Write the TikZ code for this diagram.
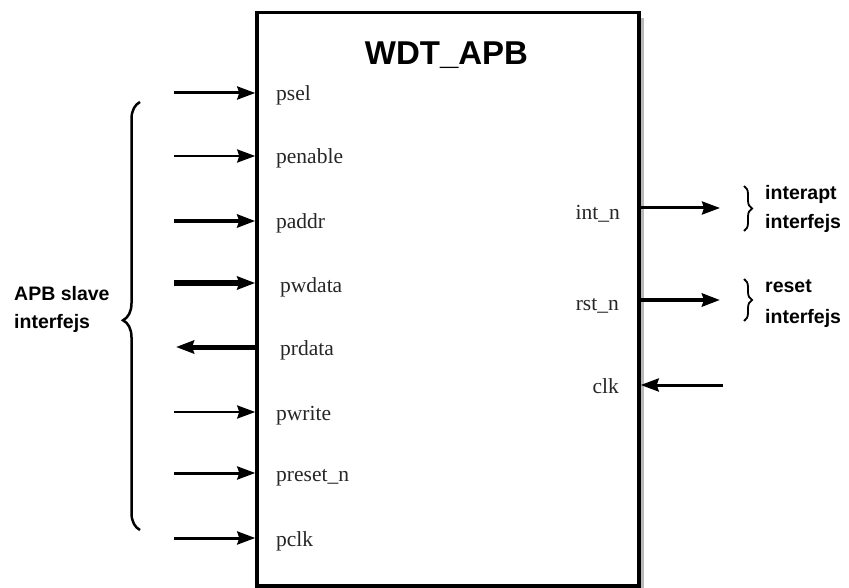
\documentclass[tikz,border=0pt]{standalone}
\usepackage{fontspec}
\setmainfont{Liberation Serif}
\newfontfamily\headsans{Liberation Sans}
\usetikzlibrary{arrows.meta,decorations.pathreplacing}

\tikzset{
  sig/.style={-{Stealth[length=18pt 0 0,width=13pt 0 0,inset=2pt 0 0]}, line width=3pt},
  pinlbl/.style={font=\fontsize{21.5}{24}\selectfont, text=black!85, inner sep=0pt},
  grouplbl/.style={font=\headsans\bfseries\fontsize{19.5}{22}\selectfont, inner sep=0pt, anchor=base west},
  bigbrace/.style={decorate, decoration={brace, amplitude=17pt, aspect=0.49}, line width=2.5pt},
  smallbrace/.style={decorate, decoration={brace, amplitude=8pt}, line width=1.8pt},
}

\begin{document}
\begin{tikzpicture}[x=1pt,y=1pt]
\useasboundingbox (0,0) rectangle (849,-588);

% the block
\draw[gray!55, line width=3pt] (642.5,-18) -- (642.5,-588);
\node[draw, line width=3.5pt, minimum width=382pt, minimum height=573.5pt,
      inner sep=0pt] (wdt) at (448,-299.25) {};
\node[font=\headsans\bfseries\fontsize{33}{36}\selectfont, anchor=base, inner sep=0pt]
  (title) at (446.5,-65) {WDT\_APB};

% APB slave port: free ends of the signals
\coordinate (psel-src)    at (174,-93);
\coordinate (penable-src) at (174,-156);
\coordinate (paddr-src)   at (174,-221);
\coordinate (pwdata-src)  at (174,-283);
\coordinate (prdata-dst)  at (176,-347);
\coordinate (pwrite-src)  at (174,-412);
\coordinate (preset-src)  at (174,-473);
\coordinate (pclk-src)    at (174,-538);

\draw[sig]                    (psel-src)    -- (psel-src -| wdt.west);
\draw[sig, line width=2.5pt]  (penable-src) -- (penable-src -| wdt.west);
\draw[sig, line width=4.5pt]  (paddr-src)   -- (paddr-src -| wdt.west);
\draw[sig, line width=6.5pt]  (pwdata-src)  -- (pwdata-src -| wdt.west);
\draw[sig, line width=5pt]    (prdata-dst -| wdt.west) -- (prdata-dst);
\draw[sig, line width=2.5pt]  (pwrite-src)  -- (pwrite-src -| wdt.west);
\draw[sig]                    (preset-src)  -- (preset-src -| wdt.west);
\draw[sig]                    (pclk-src)    -- (pclk-src -| wdt.west);

\node[pinlbl, anchor=base west] (psel)    at (276,-101) {psel};
\node[pinlbl, anchor=base west] (penable) at (276,-164) {penable};
\node[pinlbl, anchor=base west] (paddr)   at (276,-229) {paddr};
\node[pinlbl, anchor=base west] (pwdata)  at (280,-292) {pwdata};
\node[pinlbl, anchor=base west] (prdata)  at (280,-355) {prdata};
\node[pinlbl, anchor=base west] (pwrite)  at (276,-420) {pwrite};
\node[pinlbl, anchor=base west] (preset)  at (276,-481) {preset\_n};
\node[pinlbl, anchor=base west] (pclk)    at (276,-546) {pclk};

% right-hand ports
\coordinate (int-dst) at (720,-208);
\coordinate (rst-dst) at (720,-300);
\coordinate (clk-src) at (723,-385);

\draw[sig]                   (int-dst -| wdt.east) -- (int-dst);
\draw[sig, line width=4.5pt] (rst-dst -| wdt.east) -- (rst-dst);
\draw[sig]                   (clk-src) -- (clk-src -| wdt.east);

\node[pinlbl, anchor=base east] (intn) at (620,-220) {int\_n};
\node[pinlbl, anchor=base east] (rstn) at (619,-310) {rst\_n};
\node[pinlbl, anchor=base east] (clk)  at (619,-393) {clk};

% interface groups
\draw[bigbrace] (140,-530) -- (140,-102);
\node[grouplbl] (apb1) at (14,-300) {APB slave};
\node[grouplbl] (apb2) at (14,-328) {interfejs};

\draw[smallbrace] (744,-186) -- (744,-231);
\node[grouplbl] (irq1) at (765,-200) {interapt};
\node[grouplbl] (irq2) at (765,-229) {interfejs};

\draw[smallbrace] (744,-279) -- (744,-321);
\node[grouplbl] (rst1) at (765,-292) {reset};
\node[grouplbl] (rst2) at (765,-323) {interfejs};
\end{tikzpicture}
\end{document}
